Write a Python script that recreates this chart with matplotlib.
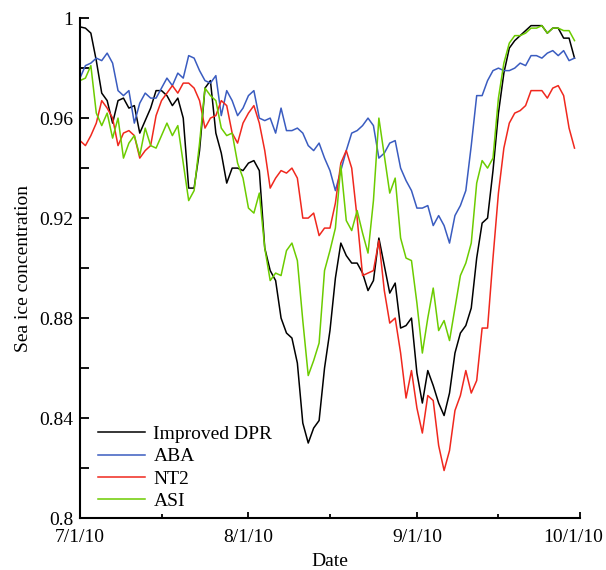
import pandas as pd
import matplotlib
matplotlib.use('Agg')
import matplotlib.pyplot as plt
import matplotlib.dates as mdates
import matplotlib.transforms as mtransforms
from matplotlib.ticker import MultipleLocator

# daily sea ice concentration, 1 Jul - 30 Sep 2010
dates = pd.date_range('2010-07-01', '2010-09-30', freq='D')

dpr = [0.9965, 0.996, 0.994, 0.983, 0.970, 0.967, 0.958, 0.967, 0.968, 0.964,
       0.965, 0.954, 0.959, 0.964, 0.971, 0.971, 0.969, 0.965, 0.968, 0.960,
       0.932, 0.932, 0.947, 0.972, 0.975, 0.954, 0.946, 0.934, 0.940, 0.940,
       0.939, 0.942, 0.943, 0.939, 0.908, 0.899, 0.895, 0.880, 0.874, 0.872,
       0.862, 0.838, 0.830, 0.836, 0.839, 0.860, 0.875, 0.896, 0.910, 0.905,
       0.902, 0.902, 0.898, 0.891, 0.895, 0.912, 0.901, 0.890, 0.894, 0.876,
       0.877, 0.880, 0.858, 0.846, 0.859, 0.853, 0.846, 0.841, 0.850, 0.866,
       0.874, 0.877, 0.884, 0.904, 0.918, 0.920, 0.939, 0.962, 0.978, 0.988,
       0.991, 0.993, 0.995, 0.997, 0.997, 0.997, 0.994, 0.996, 0.996, 0.992,
       0.992, 0.984]

aba = [0.976, 0.981, 0.982, 0.984, 0.983, 0.986, 0.982, 0.971, 0.969, 0.971,
       0.958, 0.966, 0.970, 0.968, 0.968, 0.972, 0.976, 0.973, 0.978, 0.976,
       0.985, 0.984, 0.979, 0.975, 0.974, 0.977, 0.961, 0.971, 0.967, 0.961,
       0.964, 0.969, 0.971, 0.960, 0.959, 0.960, 0.954, 0.964, 0.955, 0.955,
       0.956, 0.954, 0.949, 0.947, 0.950, 0.944, 0.939, 0.931, 0.939, 0.947,
       0.954, 0.955, 0.957, 0.960, 0.957, 0.944, 0.946, 0.950, 0.951, 0.940,
       0.935, 0.931, 0.924, 0.924, 0.925, 0.917, 0.921, 0.917, 0.910, 0.921,
       0.925, 0.931, 0.949, 0.969, 0.969, 0.975, 0.979, 0.980, 0.979, 0.979,
       0.980, 0.982, 0.981, 0.985, 0.985, 0.984, 0.986, 0.987, 0.985, 0.987,
       0.983, 0.984]

nt2 = [0.951, 0.949, 0.953, 0.958, 0.967, 0.964, 0.960, 0.949, 0.954, 0.955,
       0.953, 0.944, 0.947, 0.949, 0.961, 0.967, 0.970, 0.973, 0.970, 0.974,
       0.974, 0.972, 0.967, 0.956, 0.960, 0.961, 0.967, 0.965, 0.954, 0.950,
       0.958, 0.962, 0.965, 0.958, 0.947, 0.932, 0.936, 0.939, 0.938, 0.940,
       0.936, 0.920, 0.920, 0.922, 0.913, 0.916, 0.916, 0.926, 0.942, 0.947,
       0.940, 0.920, 0.897, 0.898, 0.899, 0.911, 0.891, 0.878, 0.880, 0.866,
       0.848, 0.859, 0.844, 0.834, 0.849, 0.847, 0.829, 0.819, 0.827, 0.843,
       0.849, 0.859, 0.850, 0.855, 0.876, 0.876, 0.904, 0.930, 0.948, 0.958,
       0.962, 0.963, 0.965, 0.971, 0.971, 0.971, 0.968, 0.972, 0.973, 0.969,
       0.956, 0.948]

asi = [0.975, 0.976, 0.981, 0.962, 0.957, 0.962, 0.952, 0.960, 0.944, 0.950,
       0.953, 0.945, 0.956, 0.949, 0.948, 0.953, 0.958, 0.953, 0.957, 0.942,
       0.927, 0.931, 0.950, 0.972, 0.969, 0.967, 0.956, 0.953, 0.954, 0.942,
       0.936, 0.924, 0.922, 0.930, 0.908, 0.895, 0.898, 0.897, 0.907, 0.910,
       0.903, 0.879, 0.857, 0.863, 0.870, 0.899, 0.907, 0.916, 0.941, 0.919,
       0.915, 0.923, 0.914, 0.906, 0.927, 0.960, 0.945, 0.930, 0.936, 0.912,
       0.904, 0.903, 0.886, 0.866, 0.880, 0.892, 0.875, 0.879, 0.871, 0.884,
       0.897, 0.902, 0.910, 0.934, 0.943, 0.940, 0.944, 0.968, 0.982, 0.990,
       0.993, 0.993, 0.994, 0.996, 0.996, 0.997, 0.994, 0.996, 0.996, 0.995,
       0.995, 0.991]

plt.rcParams['font.family'] = ['Liberation Serif', 'DejaVu Serif']
plt.rcParams['font.size'] = 14

fig = plt.figure(figsize=(6.06, 5.70), dpi=100)
ax = fig.add_axes([0.132, 0.0912, 0.825, 0.877])

ax.plot(dates, dpr, color='black', lw=1.1, label='Improved DPR')
ax.plot(dates, aba, color='#3a5cc0', lw=1.1, label='ABA')
ax.plot(dates, nt2, color='#f0281e', lw=1.1, label='NT2')
ax.plot(dates, asi, color='#6ccc00', lw=1.1, label='ASI')

ax.set_xlim(pd.Timestamp('2010-07-01'), pd.Timestamp('2010-10-01'))
ax.set_ylim(0.8, 1.0)

ax.xaxis.set_major_locator(mdates.MonthLocator())
ax.xaxis.set_minor_locator(mdates.MonthLocator(bymonthday=16))
ax.xaxis.set_major_formatter(mdates.DateFormatter('%-m/%-d/%y'))
ax.yaxis.set_major_locator(MultipleLocator(0.04))
ax.yaxis.set_minor_locator(MultipleLocator(0.02))
ax.yaxis.set_major_formatter(lambda v, p: '1' if abs(v - 1) < 1e-9 else f'{v:.2f}'.rstrip('0'))

ax.tick_params(axis='both', which='both', direction='in', width=1.3)
ax.tick_params(axis='y', which='both', length=6.5, pad=5)
ax.tick_params(axis='x', which='major', length=4.5, pad=8)
ax.tick_params(axis='x', which='minor', length=3)

for s in ['top', 'right']:
    ax.spines[s].set_visible(False)
for s in ['left', 'bottom']:
    ax.spines[s].set_linewidth(1.5)

ax.set_xlabel('Date', labelpad=5)
ax.set_ylabel('Sea ice concentration', labelpad=5)

ax.legend(loc='lower left', bbox_to_anchor=(0.036, 0.016), frameon=False,
          handlelength=2.4, handletextpad=0.45, labelspacing=0.24,
          borderpad=0, borderaxespad=0)

# keep the last date label inside the figure
fig.canvas.draw()
last = ax.get_xticklabels()[-1]
last.set_transform(last.get_transform() +
                   mtransforms.ScaledTranslation(-7 / 100, 0, fig.dpi_scale_trans))

fig.savefig('out.png', dpi=100)
